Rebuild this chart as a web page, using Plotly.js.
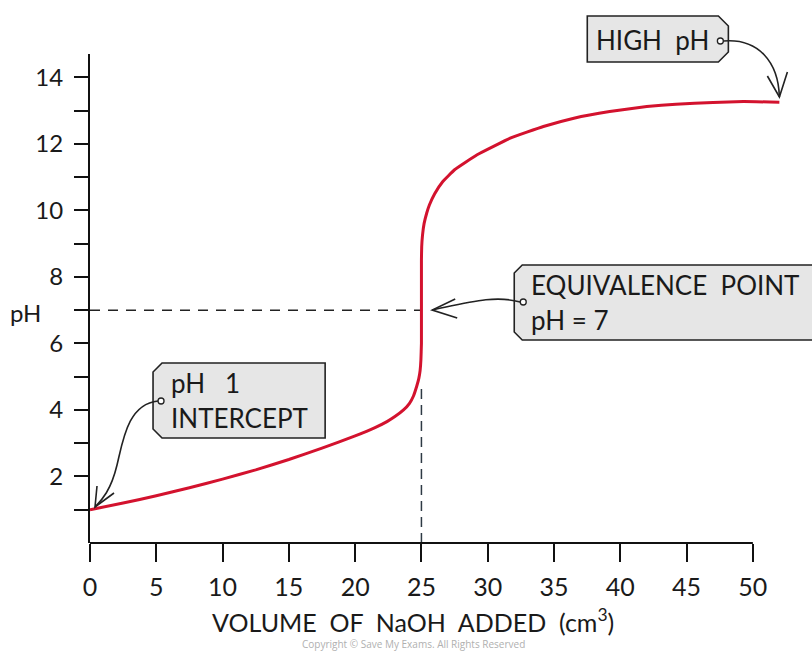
<!DOCTYPE html>
<html>
<head>
<meta charset="utf-8">
<script src="https://cdn.plot.ly/plotly-3.0.1.min.js"></script>
<style>html,body{margin:0;padding:0;background:#fff;}#chart{width:812px;height:651px;}</style>
</head>
<body>
<div id="chart"></div>
<script>
// Data
const volume = [0, 2.5, 5, 7.5, 10, 12.5, 15, 17.5, 20, 21.5, 22.4, 23, 23.65, 24.1, 24.4, 24.65, 24.8, 24.9, 24.96, 25.0, 25.0, 25.02, 25.08, 25.2, 25.4, 25.6, 26.0, 26.6, 27.5, 29.2, 31.7, 34.2, 36.5, 39.2, 42, 44.2, 47, 49.3, 52];
const pH     = [1.0, 1.2, 1.42, 1.66, 1.92, 2.2, 2.51, 2.85, 3.22, 3.47, 3.65, 3.8, 4.0, 4.2, 4.42, 4.72, 4.94, 5.18, 5.5, 6.0, 8.5, 8.9, 9.25, 9.6, 9.92, 10.16, 10.5, 10.86, 11.22, 11.67, 12.17, 12.52, 12.77, 12.97, 13.12, 13.19, 13.24, 13.27, 13.25];
const xTickVals = [0, 5, 10, 15, 20, 25, 30, 35, 40, 45, 50];
const xTickText = ['0', '5', '10', '15', '20', '25', '30', '35', '40', '45', '50'];
const yTickVals = [2, 4, 6, 8, 10, 12, 14];
const yTickText = ['2', '4', '6', '8', '10', '12', '14'];
const yMinorTickVals = [1, 3, 5, 7, 9, 11, 13];
const equivalenceVolume = 25;
const equivalencePH = 7;
const xAxisEnd = 50;

// pixel -> paper helpers for decorations (callout boxes, arrows)
const L = 90, R = 785.6, T = 54, B = 543;
const PX = x => (x - L) / (R - L);
const PY = y => (B - y) / (B - T);
function pathFrom(cmds) {
  return cmds.map(c => c[0] + ' ' + c.slice(1).reduce((a, v, i, arr) => {
    if (i % 2 === 0) a.push(PX(v).toFixed(5) + ',' + PY(arr[i + 1]).toFixed(5));
    return a;
  }, []).join(' ')).join(' ');
}
function circle(cx, cy, r) {
  return {type: 'circle', xref: 'paper', yref: 'paper', x0: PX(cx - r), x1: PX(cx + r), y0: PY(cy + r), y1: PY(cy - r),
    line: {color: '#222', width: 1.3}, fillcolor: '#fff', layer: 'above'};
}
const boxStyle = {type: 'path', xref: 'paper', yref: 'paper', fillcolor: '#e6e6e6', line: {color: '#222', width: 1.6}, layer: 'above'};
const arrowStyle = {type: 'path', xref: 'paper', yref: 'paper', line: {color: '#222', width: 1.6}, layer: 'above'};

const FONT = 'Lato, "Open Sans", sans-serif';

const shapes = [
  // x axis line (ends at 50)
  {type: 'line', xref: 'x', yref: 'paper', x0: 0, x1: xAxisEnd, y0: 0, y1: 0, line: {color: '#111', width: 2}},
  // dashed guide lines
  {type: 'line', xref: 'x', yref: 'y', x0: 0, x1: equivalenceVolume, y0: equivalencePH, y1: equivalencePH,
    line: {color: '#222', width: 1.5, dash: '10px,8px'}, layer: 'below'},
  {type: 'line', xref: 'x', yref: 'y', x0: equivalenceVolume, x1: equivalenceVolume, y0: 0, y1: 4.8,
    line: {color: '#2e3a44', width: 1.5, dash: '10px,6px'}, layer: 'below'},
  // HIGH pH box (chamfered right corners)
  Object.assign({}, boxStyle, {path: pathFrom([['M', 587, 16], ['L', 718, 16], ['L', 728, 26], ['L', 728, 52], ['L', 718, 62], ['L', 587, 62], ['Z']])}),
  // EQUIVALENCE box (chamfered left corners)
  Object.assign({}, boxStyle, {path: pathFrom([['M', 522, 265], ['L', 840, 265], ['L', 840, 340], ['L', 522, 340], ['L', 514, 332], ['L', 514, 273], ['Z']])}),
  // INTERCEPT box (chamfered left corners)
  Object.assign({}, boxStyle, {path: pathFrom([['M', 162, 363], ['L', 325, 363], ['L', 325, 438], ['L', 162, 438], ['L', 153, 429], ['L', 153, 372], ['Z']])}),
  // arrows
  Object.assign({}, arrowStyle, {path: pathFrom([['M', 723, 41], ['C', 758, 38, 778, 62, 779, 97]])}),
  Object.assign({}, arrowStyle, {path: pathFrom([['M', 767, 76], ['L', 779, 97], ['L', 787, 72]])}),
  Object.assign({}, arrowStyle, {path: pathFrom([['M', 520, 302], ['C', 495, 295, 470, 302, 432, 310]])}),
  Object.assign({}, arrowStyle, {path: pathFrom([['M', 455, 299], ['L', 432, 310], ['L', 457, 318]])}),
  Object.assign({}, arrowStyle, {path: pathFrom([['M', 158, 401], ['C', 128, 404, 123, 440, 117, 465], ['C', 111, 490, 102, 500, 95, 507]])}),
  Object.assign({}, arrowStyle, {path: pathFrom([['M', 97, 486], ['L', 95, 507], ['L', 114, 493]])}),
  circle(720, 41, 3),
  circle(523, 302, 3),
  circle(161, 401, 3)
];

function txt(text, x, y, size, opts) {
  return Object.assign({text: text, xref: 'paper', yref: 'paper', x: PX(x), y: PY(y), xanchor: 'left', yanchor: 'middle',
    showarrow: false, font: {family: FONT, size: size, color: '#1a1a1a'}}, opts || {});
}

const annotations = [
  txt('HIGH\u00a0\u00a0pH', 594, 40, 26),
  txt('EQUIVALENCE\u00a0\u00a0POINT', 529, 285, 26),
  txt('pH\u00a0=\u00a07', 529, 320, 26),
  txt('pH\u00a0\u00a0\u00a01', 169, 383, 26),
  txt('INTERCEPT', 169, 418, 26),
  txt('pH', 8, 312, 24),
  {text: 'VOLUME\u00a0\u00a0OF\u00a0\u00a0NaOH\u00a0\u00a0ADDED\u00a0\u00a0(cm<sup>3</sup>)', xref: 'x', yref: 'paper', x: equivalenceVolume - 0.6, y: PY(620),
    xanchor: 'center', yanchor: 'middle', showarrow: false, font: {family: FONT, size: 25, color: '#1a1a1a'}},
  {text: 'Copyright © Save My Exams. All Rights Reserved', xref: 'x', yref: 'paper', x: equivalenceVolume - 0.6, y: PY(644),
    xanchor: 'center', yanchor: 'middle', showarrow: false, font: {family: '"Open Sans", sans-serif', size: 10, color: '#b0b0b0'}}
];

const trace = {
  x: volume, y: pH, type: 'scatter', mode: 'lines',
  line: {color: '#d3122e', width: 3, shape: 'spline', smoothing: 0.3},
  cliponaxis: false, hoverinfo: 'skip'
};

const layout = {
  width: 812, height: 651, autosize: false,
  margin: {l: L, r: 812 - R, t: T, b: 651 - B, pad: 0},
  paper_bgcolor: '#fff', plot_bgcolor: '#fff',
  showlegend: false,
  xaxis: {range: [0, 52.5], tickvals: xTickVals, ticktext: xTickText, ticks: 'outside', ticklen: 18, tickwidth: 2,
    tickcolor: '#111', showline: false, showgrid: false, zeroline: false, ticklabelstandoff: 4,
    tickfont: {family: FONT, size: 25, color: '#1a1a1a'}, fixedrange: true},
  yaxis: {range: [0, 14.7], tickvals: yTickVals, ticktext: yTickText, ticks: 'outside', ticklen: 14, tickwidth: 2,
    tickcolor: '#111', showline: true, linewidth: 2, linecolor: '#111', showgrid: false, zeroline: false, ticklabelstandoff: 6,
    minor: {tickvals: yMinorTickVals, ticks: 'outside', ticklen: 14, tickwidth: 2, tickcolor: '#111', showgrid: false},
    tickfont: {family: FONT, size: 24, color: '#1a1a1a'}, fixedrange: true},
  shapes: shapes,
  annotations: annotations
};

Plotly.newPlot('chart', [trace], layout, {displayModeBar: false, staticPlot: true});
</script>
</body>
</html>
